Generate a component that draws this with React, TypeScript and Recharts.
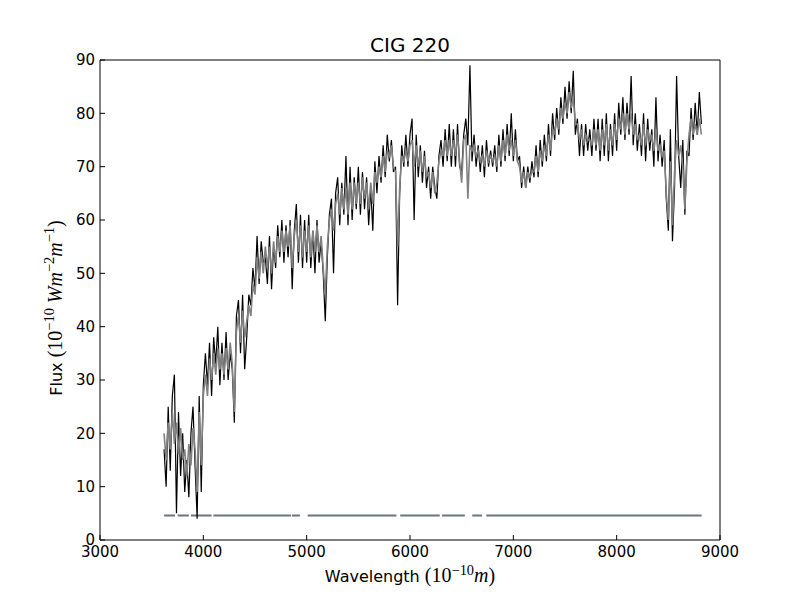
import { LineChart, Line, XAxis, YAxis } from "recharts"

// sampling grid of the spectrum (Angstrom)
const wavelength = [
  3620, 3640, 3660, 3680, 3700, 3720, 3740, 3760, 3780, 3800,
  3820, 3840, 3860, 3880, 3900, 3920, 3940, 3960, 3980, 4000,
  4020, 4040, 4060, 4080, 4100, 4120, 4140, 4160, 4180, 4200,
  4220, 4240, 4260, 4280, 4300, 4320, 4340, 4360, 4380, 4400,
  4420, 4440, 4460, 4480, 4500, 4520, 4540, 4560, 4580, 4600,
  4620, 4640, 4660, 4680, 4700, 4720, 4740, 4760, 4780, 4800,
  4820, 4840, 4860, 4880, 4900, 4920, 4940, 4960, 4980, 5000,
  5020, 5040, 5060, 5080, 5100, 5120, 5140, 5160, 5180, 5200,
  5220, 5240, 5260, 5280, 5300, 5320, 5340, 5360, 5380, 5400,
  5420, 5440, 5460, 5480, 5500, 5520, 5540, 5560, 5580, 5600,
  5620, 5640, 5660, 5680, 5700, 5720, 5740, 5760, 5780, 5800,
  5820, 5840, 5860, 5880, 5900, 5920, 5940, 5960, 5980, 6000,
  6020, 6040, 6060, 6080, 6100, 6120, 6140, 6160, 6180, 6200,
  6220, 6240, 6260, 6280, 6300, 6320, 6340, 6360, 6380, 6400,
  6420, 6440, 6460, 6480, 6500, 6520, 6540, 6560, 6580, 6600,
  6620, 6640, 6660, 6680, 6700, 6720, 6740, 6760, 6780, 6800,
  6820, 6840, 6860, 6880, 6900, 6920, 6940, 6960, 6980, 7000,
  7020, 7040, 7060, 7080, 7100, 7120, 7140, 7160, 7180, 7200,
  7220, 7240, 7260, 7280, 7300, 7320, 7340, 7360, 7380, 7400,
  7420, 7440, 7460, 7480, 7500, 7520, 7540, 7560, 7580, 7600,
  7620, 7640, 7660, 7680, 7700, 7720, 7740, 7760, 7780, 7800,
  7820, 7840, 7860, 7880, 7900, 7920, 7940, 7960, 7980, 8000,
  8020, 8040, 8060, 8080, 8100, 8120, 8140, 8160, 8180, 8200,
  8220, 8240, 8260, 8280, 8300, 8320, 8340, 8360, 8380, 8400,
  8420, 8440, 8460, 8480, 8500, 8520, 8540, 8560, 8580, 8600,
  8620, 8640, 8660, 8680, 8700, 8720, 8740, 8760, 8780, 8800,
  8820,
]

// observed flux (black)
const observed = [
  17, 10, 25, 13, 27, 31, 5, 24, 12, 20,
  9, 15, 8, 20, 25, 14, 4, 27, 9, 29,
  35, 29, 37, 27, 38, 33, 40, 29, 37, 30,
  39, 30, 35, 32, 22, 42, 45, 35, 46, 32,
  38, 46, 44, 51, 47, 57, 48, 56, 52, 53,
  48, 57, 47, 55, 51, 59, 53, 60, 52, 59,
  53, 60, 47, 58, 63, 52, 61, 51, 60, 52,
  61, 51, 58, 50, 60, 52, 56, 50, 41, 53,
  61, 64, 50, 65, 68, 59, 67, 61, 72, 59,
  70, 60, 68, 62, 70, 61, 69, 62, 68, 59,
  66, 58, 71, 65, 72, 67, 74, 68, 76, 71,
  75, 69, 70, 44, 65, 74, 70, 76, 70, 76,
  79, 60, 76, 68, 74, 67, 73, 66, 70, 64,
  70, 66, 64, 72, 75, 70, 77, 71, 78, 70,
  77, 70, 78, 70, 69, 76, 79, 74, 89, 71,
  76, 70, 74, 69, 74, 68, 75, 70, 73, 70,
  74, 69, 76, 70, 77, 71, 78, 72, 80, 71,
  77, 71, 72, 66, 70, 66, 70, 67, 71, 68,
  74, 68, 75, 70, 76, 71, 78, 72, 80, 75,
  81, 76, 83, 78, 85, 79, 86, 80, 88, 76,
  79, 72, 78, 72, 78, 73, 77, 72, 79, 73,
  79, 71, 79, 72, 80, 71, 78, 72, 80, 73,
  82, 76, 83, 75, 82, 76, 87, 74, 80, 73,
  78, 72, 80, 71, 79, 73, 77, 70, 83, 71,
  76, 70, 75, 64, 58, 77, 56, 66, 87, 72,
  66, 75, 61, 73, 72, 81, 75, 82, 76, 84,
  78,
]

// synthetic fit (grey)
const synthetic = [
  20, 15, 22, 17, 24, 18, 22, 16, 21, 15,
  17, 12, 18, 14, 21, 17, 9, 24, 14, 27,
  31, 27, 34, 30, 35, 31, 36, 32, 35, 31,
  36, 32, 37, 33, 24, 39, 42, 37, 43, 38,
  41, 44, 42, 48, 46, 53, 49, 54, 50, 55,
  51, 55, 50, 56, 52, 57, 54, 58, 54, 58,
  55, 59, 51, 57, 60, 54, 59, 53, 58, 54,
  59, 53, 58, 54, 59, 54, 57, 51, 46, 55,
  60, 62, 58, 63, 65, 61, 66, 62, 66, 61,
  67, 62, 67, 63, 67, 63, 68, 64, 67, 62,
  67, 63, 69, 67, 70, 68, 72, 69, 73, 72,
  74, 70, 69, 55, 66, 72, 71, 73, 71, 74,
  75, 70, 74, 70, 73, 69, 72, 68, 69, 66,
  69, 65, 67, 71, 73, 72, 75, 72, 75, 72,
  75, 72, 76, 71, 67, 75, 76, 64, 74, 73,
  74, 72, 73, 71, 72, 70, 73, 71, 72, 71,
  72, 70, 74, 71, 75, 72, 76, 73, 75, 72,
  75, 71, 70, 67, 69, 66, 69, 68, 69, 69,
  72, 69, 73, 71, 74, 72, 76, 73, 77, 76,
  79, 77, 81, 79, 82, 80, 84, 81, 83, 78,
  78, 75, 77, 74, 76, 75, 75, 74, 77, 74,
  77, 73, 77, 74, 78, 73, 77, 74, 78, 75,
  79, 77, 80, 76, 80, 77, 80, 76, 78, 75,
  76, 74, 78, 74, 77, 75, 76, 73, 77, 73,
  74, 72, 73, 65, 60, 71, 59, 69, 75, 72,
  74, 70, 62, 71, 76, 79, 76, 78, 76, 79,
  76,
]

// fitted windows (the slate line near the bottom)
const maskStart = [3620, 3752, 3880, 4097, 4858, 5010, 5905, 6310, 6602, 6739]
const maskEnd = [3726, 3860, 4080, 4850, 4935, 5869, 6288, 6531, 6697, 8822]
const maskLevel = 4.6

const xTicks = [3000, 4000, 5000, 6000, 7000, 8000, 9000]
const yTicks = [0, 10, 20, 30, 40, 50, 60, 70, 80, 90]

const spectrum = wavelength.map((wl, i) => ({ wl, obs: observed[i], model: synthetic[i] }))
const mask = maskStart.flatMap((s, i) => [
  { wl: s, flag: maskLevel },
  { wl: maskEnd[i], flag: maskLevel },
  { wl: maskEnd[i] + 1, flag: null },
])

const font = "'DejaVu Sans', sans-serif"
const mathFont = "'Liberation Serif', 'DejaVu Serif', serif"
const tickStyle = { fontSize: 15, fill: "#000", fontFamily: font }

const supStyle = { fontSize: "0.72em", verticalAlign: "0.5em", lineHeight: 0 }

export default function App() {
  return (
    <div style={{ position: "absolute", left: 0, top: 0, width: 800, height: 600, background: "#fff" }}>
      <LineChart
        width={800}
        height={600}
        data={spectrum}
        margin={{ top: 59, right: 79, bottom: 30, left: 50 }}
      >
        <XAxis
          dataKey="wl"
          type="number"
          domain={[3000, 9000]}
          ticks={xTicks}
          allowDataOverflow
          height={30}
          stroke="#000"
          tickSize={-5}
          tickMargin={11}
          tick={tickStyle}
        />
        <XAxis
          xAxisId="top"
          orientation="top"
          type="number"
          domain={[3000, 9000]}
          ticks={xTicks}
          height={1}
          stroke="#000"
          tickSize={-5}
          tickFormatter={() => ""}
        />
        <YAxis
          type="number"
          domain={[0, 90]}
          ticks={yTicks}
          allowDataOverflow
          width={50}
          stroke="#000"
          tickSize={-5}
          tickMargin={10}
          tick={tickStyle}
        />
        <YAxis
          yAxisId="right"
          orientation="right"
          type="number"
          domain={[0, 90]}
          ticks={yTicks}
          width={1}
          stroke="#000"
          tickSize={-5}
          tickFormatter={() => ""}
        />
        <Line
          data={mask}
          dataKey="flag"
          stroke="#68777f"
          strokeWidth={2}
          dot={false}
          isAnimationActive={false}
          connectNulls={false}
        />
        <Line dataKey="obs" stroke="#000" strokeWidth={1.2} dot={false} isAnimationActive={false} />
        <Line dataKey="model" stroke="#808080" strokeWidth={1.6} dot={false} isAnimationActive={false} />
      </LineChart>

      <div
        style={{
          position: "absolute",
          left: 410,
          top: 33,
          transform: "translateX(-50%)",
          fontFamily: font,
          fontSize: 20,
          whiteSpace: "nowrap",
        }}
      >
        CIG 220
      </div>

      <div
        style={{
          position: "absolute",
          left: 410,
          top: 564,
          transform: "translateX(-50%)",
          fontFamily: font,
          fontSize: 16,
          whiteSpace: "nowrap",
        }}
      >
        Wavelength{" "}
        <span style={{ fontFamily: mathFont, fontSize: 20 }}>
          (10<span style={supStyle}>−10</span>
          <i>m</i>)
        </span>
      </div>

      <div
        style={{
          position: "absolute",
          left: 55,
          top: 308,
          transform: "translate(-50%, -50%) rotate(-90deg)",
          fontFamily: font,
          fontSize: 16,
          whiteSpace: "nowrap",
        }}
      >
        Flux{" "}
        <span style={{ fontFamily: mathFont, fontSize: 20 }}>
          (10<span style={supStyle}>−10</span> <i>Wm</i>
          <span style={supStyle}>−2</span>
          <i>m</i>
          <span style={supStyle}>−1</span>)
        </span>
      </div>
    </div>
  )
}
